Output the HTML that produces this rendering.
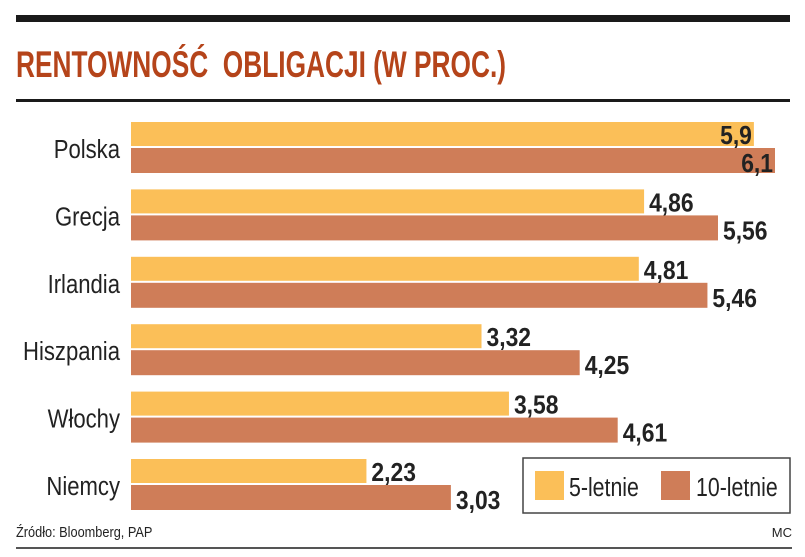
<!DOCTYPE html>
<html><head><meta charset="utf-8"><style>
body{margin:0;background:#fff;}
svg{display:block;}
text{font-family:"Liberation Sans Narrow","Liberation Sans",sans-serif;}
</style></head><body>
<svg id="chart" width="805" height="557">
<rect x="16" y="15" width="774" height="7" fill="#1a1a1a"/>
<text x="16" y="77" font-size="37" font-weight="bold" fill="#b5441a" textLength="490" lengthAdjust="spacingAndGlyphs" xml:space="preserve">RENTOWNOŚĆ  OBLIGACJI (W PROC.)</text>
<rect x="16" y="99" width="774" height="3" fill="#1a1a1a"/>
<g id="bars"></g>
<rect x="523" y="458" width="267" height="55" fill="#fff" stroke="#444" stroke-width="1.5"/>
<rect x="535" y="471" width="29" height="29" fill="#fbbf58"/>
<text transform="translate(569,496) scale(0.82,1)" font-size="26" fill="#222">5-letnie</text>
<rect x="661" y="471" width="29" height="29" fill="#cf7d58"/>
<text transform="translate(696,496) scale(0.82,1)" font-size="26" fill="#222">10-letnie</text>
<text transform="translate(16,537) scale(0.85,1)" font-size="15" fill="#222">Źródło: Bloomberg, PAP</text>
<text x="792" y="537" font-size="13" fill="#222" text-anchor="end">MC</text>
<rect x="16" y="547" width="776" height="2" fill="#555"/>
</svg>
<script>
const countries=["Polska","Grecja","Irlandia","Hiszpania","Włochy","Niemcy"];
const fiveYear=[5.9,4.86,4.81,3.32,3.58,2.23];
const tenYear=[6.1,5.56,5.46,4.25,4.61,3.03];
const fiveLabels=["5,9","4,86","4,81","3,32","3,58","2,23"];
const tenLabels=["6,1","5,56","5,46","4,25","4,61","3,03"];
const x0=131,scale=(775-131)/6.1;
function xs(v){return x0+v*scale;}
function rowY(i){return 122+i*67.4;}
const g=document.getElementById('bars');
const NS="http://www.w3.org/2000/svg";
function mk(t,a){const e=document.createElementNS(NS,t);for(const k in a)e.setAttribute(k,a[k]);return e;}
countries.forEach((c,i)=>{
  const y=rowY(i);
  const lab=mk('text',{transform:`translate(120,${y+36}) scale(0.85,1)`,'font-size':26,'text-anchor':'end',fill:'#222'});
  lab.textContent=c;
  
  
  g.appendChild(lab);
  const b1=mk('rect',{x:x0,y:y,width:xs(fiveYear[i])-x0,height:24,fill:'#fbbf58'});
  
  
  g.appendChild(b1);
  const b2=mk('rect',{x:x0,y:y+26,width:xs(tenYear[i])-x0,height:25,fill:'#cf7d58'});
  
  
  g.appendChild(b2);
  const inside=i===0;
  const t1=mk('text',{transform:`translate(${inside?xs(fiveYear[i])-2:xs(fiveYear[i])+5},${y+22}) scale(0.88,1)`,'font-size':26,'font-weight':'bold',fill:'#222','text-anchor':inside?'end':'start'});
  t1.textContent=fiveLabels[i];
  
  
  g.appendChild(t1);
  const t2=mk('text',{transform:`translate(${inside?xs(tenYear[i])-2:xs(tenYear[i])+5},${y+50}) scale(0.88,1)`,'font-size':26,'font-weight':'bold',fill:'#222','text-anchor':inside?'end':'start'});
  t2.textContent=tenLabels[i];
  
  
  g.appendChild(t2);
});
</script>
</body></html>
